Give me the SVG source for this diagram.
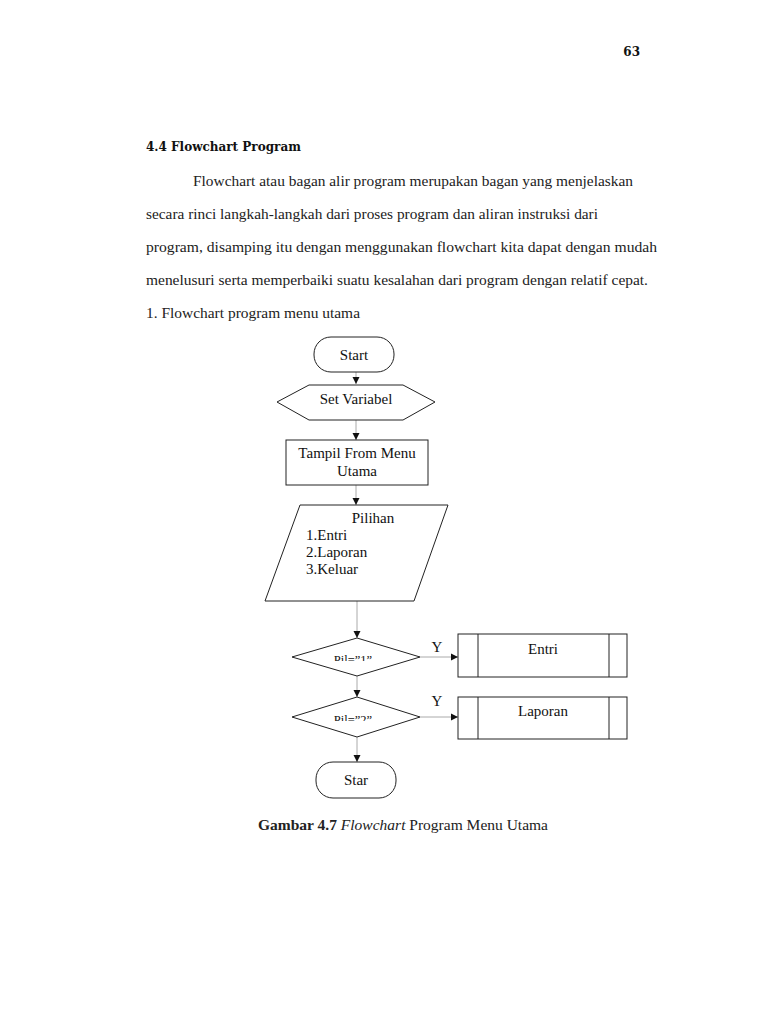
<svg xmlns="http://www.w3.org/2000/svg" width="768" height="1024" viewBox="0 0 768 1024">
<style>
.body{font-family:"Liberation Serif","Times New Roman",serif;font-size:14px;fill:#222}
.head{font-family:"DejaVu Serif","Liberation Serif",serif;font-weight:bold;font-size:12px;fill:#111}
.lbl{font-family:"Liberation Serif","Times New Roman",serif;font-size:15px;fill:#111}
.sm{font-family:"Liberation Serif","Times New Roman",serif;font-size:12.5px;fill:#111}
.shape{fill:#fff;stroke:#222;stroke-width:1}
.conn{stroke:#aaa;stroke-width:1;fill:none}
</style>
<defs>
<marker id="arr" markerWidth="8" markerHeight="8" refX="7" refY="4" orient="auto" markerUnits="userSpaceOnUse">
<path d="M0,0.5 L7,4 L0,7.5 Z" fill="#111"/>
</marker>
<clipPath id="c1"><rect x="300" y="640" width="120" height="21"/></clipPath>
<clipPath id="c2"><rect x="300" y="700" width="120" height="21"/></clipPath>
</defs>
<rect width="768" height="1024" fill="#fff"/>

<text class="head" x="640" y="56" text-anchor="end">63</text>
<text class="head" x="146" y="151">4.4 Flowchart Program</text>
<text class="body" x="193" y="186" textLength="440" lengthAdjust="spacingAndGlyphs">Flowchart atau bagan alir program merupakan bagan yang menjelaskan</text>
<text class="body" x="146" y="219" textLength="452" lengthAdjust="spacingAndGlyphs">secara rinci langkah-langkah dari proses program dan aliran instruksi dari</text>
<text class="body" x="146" y="252" textLength="511" lengthAdjust="spacingAndGlyphs">program, disamping itu dengan menggunakan flowchart kita dapat dengan mudah</text>
<text class="body" x="146" y="285" textLength="502" lengthAdjust="spacingAndGlyphs">menelusuri serta memperbaiki suatu kesalahan dari program dengan relatif cepat.</text>
<text class="body" x="146" y="318" textLength="214" lengthAdjust="spacingAndGlyphs">1. Flowchart program menu utama</text>

<g id="connectors">
<line class="conn" x1="356" y1="372" x2="356" y2="384" marker-end="url(#arr)"/>
<line class="conn" x1="356" y1="420" x2="356" y2="440" marker-end="url(#arr)"/>
<line class="conn" x1="356" y1="485" x2="356" y2="505" marker-end="url(#arr)"/>
<line class="conn" x1="357" y1="601" x2="357" y2="638" marker-end="url(#arr)"/>
<line class="conn" x1="420" y1="657" x2="458" y2="657" marker-end="url(#arr)"/>
<line class="conn" x1="357" y1="676" x2="357" y2="697" marker-end="url(#arr)"/>
<line class="conn" x1="420" y1="717" x2="458" y2="717" marker-end="url(#arr)"/>
<line class="conn" x1="357" y1="737" x2="357" y2="762" marker-end="url(#arr)"/>
<text class="lbl" x="437" y="652" text-anchor="middle">Y</text>
<text class="lbl" x="437" y="706" text-anchor="middle">Y</text>
</g>

<g id="start">
<rect class="shape" x="314" y="337" width="80" height="35" rx="17"/>
<text class="lbl" x="354" y="360" text-anchor="middle">Start</text>
</g>

<g id="setvar">
<polygon class="shape" points="277,402 309,385 403,385 435,402 403,420 309,420"/>
<text class="lbl" x="356" y="404" text-anchor="middle">Set Variabel</text>
</g>

<g id="tampil">
<rect class="shape" x="286" y="440" width="142" height="45"/>
<text class="lbl" x="357" y="458" text-anchor="middle">Tampil From Menu</text>
<text class="lbl" x="357" y="476" text-anchor="middle">Utama</text>
</g>

<g id="pilihan">
<polygon class="shape" points="300,505 448,505 414,601 265,601"/>
<text class="lbl" x="373" y="523" text-anchor="middle">Pilihan</text>
<text class="lbl" x="306" y="540">1.Entri</text>
<text class="lbl" x="306" y="557">2.Laporan</text>
<text class="lbl" x="306" y="574">3.Keluar</text>
</g>

<g id="dec1">
<polygon class="shape" points="292,657 357,638 420,657 357,676"/>
<text class="sm" x="353" y="664" text-anchor="middle" clip-path="url(#c1)">Pil=”1”</text>
</g>

<g id="entri">
<rect class="shape" x="458" y="634" width="169" height="43"/>
<line class="shape" x1="478" y1="634" x2="478" y2="677"/>
<line class="shape" x1="609" y1="634" x2="609" y2="677"/>
<text class="lbl" x="543" y="654" text-anchor="middle">Entri</text>
</g>

<g id="dec2">
<polygon class="shape" points="292,717 357,697 420,717 357,737"/>
<text class="sm" x="353" y="724" text-anchor="middle" clip-path="url(#c2)">Pil=”2”</text>
</g>

<g id="laporan">
<rect class="shape" x="458" y="697" width="169" height="42"/>
<line class="shape" x1="478" y1="697" x2="478" y2="739"/>
<line class="shape" x1="609" y1="697" x2="609" y2="739"/>
<text class="lbl" x="543" y="716" text-anchor="middle">Laporan</text>
</g>

<g id="star">
<rect class="shape" x="316" y="762" width="80" height="36" rx="17"/>
<text class="lbl" x="356" y="785" text-anchor="middle">Star</text>
</g>

<text class="body" x="258" y="830" textLength="290" lengthAdjust="spacingAndGlyphs" font-size="15"><tspan font-weight="bold">Gambar 4.7 </tspan><tspan font-style="italic">Flowchart</tspan> Program Menu Utama</text>
</svg>
